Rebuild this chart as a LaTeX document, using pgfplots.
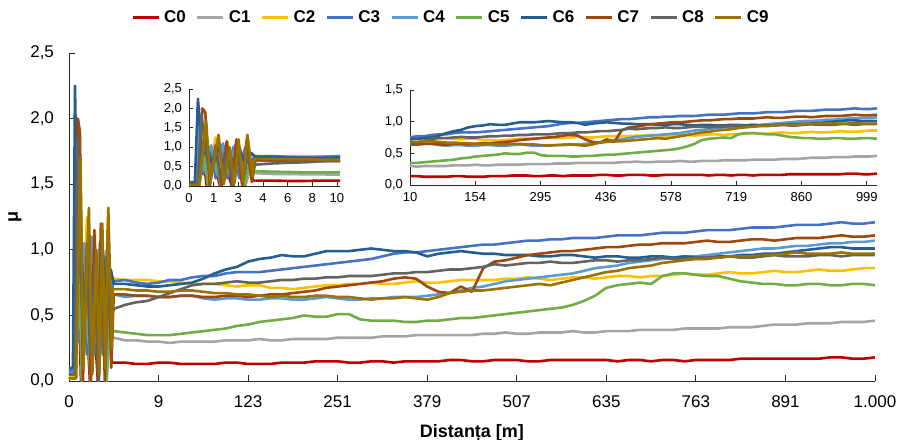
\documentclass[border=0pt]{standalone}
\usepackage{fontspec}
\setmainfont{Liberation Sans}
\usepackage{pgfplots}
\usepackage{pgfplotstable}
\pgfplotsset{compat=1.18}

\definecolor{c0}{HTML}{C00000}
\definecolor{c1}{HTML}{A5A5A5}
\definecolor{c2}{HTML}{FFC000}
\definecolor{c3}{HTML}{4472C4}
\definecolor{c4}{HTML}{5B9BD5}
\definecolor{c5}{HTML}{70AD47}
\definecolor{c6}{HTML}{255E91}
\definecolor{c7}{HTML}{9E480E}
\definecolor{c8}{HTML}{636363}
\definecolor{c9}{HTML}{997300}

% x is in tick-interval units: 1 unit = one label step of the main axis (0..9 m in the first one)
% first 4.5 m: oscillation, one x/y pair per series
\pgfplotstableread{
x0    y0   x1    y1   x2    y2   x3    y3   x4    y4   x5    y5   x6    y6   x7    y7   x8    y8   x9    y9
0     0.03 0     0.02 0     0.03 0     0.08 0     0.06 0     0.02 0     0.10 0     0.05 0     0.05 0     0.02
0.067 0.03 0.078 0.02 0.078 0.03 0.050 0.08 0.056 0.06 0.078 0.02 0.044 0.10 0.067 0.05 0.067 0.05 0.078 0.02
0.100 1.00 0.111 0.80 0.111 1.50 0.072 1.80 0.078 1.60 0.111 1.10 0.067 2.25 0.100 2.00 0.094 1.85 0.128 1.70
0.133 0.00 0.144 0.00 0.144 0.30 0.106 0.30 0.111 0.40 0.144 0.00 0.100 0.80 0.122 1.90 0.122 1.00 0.161 0.10
0.189 0.60 0.200 0.70 0.200 1.25 0.156 1.00 0.167 1.05 0.194 0.80 0.144 0.90 0.156 0.00 0.156 0.30 0.222 1.32
0.233 0.00 0.244 0.00 0.244 0.20 0.200 0.20 0.211 0.30 0.239 0.00 0.178 0.50 0.200 1.05 0.200 0.90 0.261 0.05
0.278 0.50 0.289 0.65 0.289 1.15 0.244 1.05 0.256 1.10 0.283 0.85 0.222 1.00 0.244 0.00 0.244 0.20 0.306 1.00
0.322 0.00 0.333 0.00 0.322 0.20 0.289 0.20 0.300 0.30 0.328 0.00 0.256 0.55 0.283 1.15 0.289 0.90 0.339 0.05
0.367 0.55 0.378 0.60 0.367 1.20 0.333 1.00 0.344 1.05 0.372 0.80 0.300 0.95 0.322 0.00 0.333 0.00 0.372 1.20
0.411 0.00 0.422 0.00 0.400 0.15 0.378 0.20 0.389 0.30 0.417 0.00 0.333 0.50 0.356 1.20 0.367 0.80 0.406 0.10
0.456 0.45 0.467 0.50 0.433 1.25 0.422 1.00 0.433 1.00 0.461 0.70 0.378 1.00 0.400 0.00 0.411 0.20 0.439 1.32
0.478 0.15 0.483 0.34 0.478 0.30 0.467 0.50 0.478 0.50 0.483 0.40 0.422 0.55 0.433 1.15 0.444 0.80 0.478 0.25
0.489 0.14 0.489 0.33 0.489 0.78 0.489 0.76 0.489 0.66 0.489 0.38 0.467 0.85 0.472 0.10 0.478 0.50 0.489 0.70
0.500 0.14 0.500 0.33 0.500 0.78 0.500 0.76 0.500 0.66 0.500 0.38 0.500 0.74 0.500 0.66 0.500 0.55 0.500 0.70
}\osc

% rest of the run, all series on one grid
\pgfplotstableread{
x     c0   c1   c2   c3   c4   c5   c6   c7   c8   c9
0.500 0.14 0.33 0.78 0.76 0.66 0.38 0.74 0.66 0.55 0.70
0.625 0.14 0.31 0.77 0.77 0.64 0.37 0.74 0.66 0.58 0.70
0.750 0.13 0.31 0.77 0.75 0.65 0.36 0.73 0.65 0.60 0.69
0.875 0.13 0.30 0.77 0.74 0.65 0.35 0.72 0.65 0.61 0.69
1.000 0.14 0.30 0.76 0.75 0.64 0.35 0.72 0.64 0.64 0.68
1.125 0.14 0.29 0.76 0.77 0.64 0.35 0.73 0.64 0.67 0.68
1.250 0.13 0.30 0.75 0.77 0.65 0.36 0.74 0.65 0.70 0.69
1.375 0.13 0.30 0.74 0.79 0.65 0.37 0.75 0.65 0.73 0.69
1.500 0.13 0.30 0.74 0.80 0.63 0.38 0.78 0.64 0.74 0.68
1.625 0.13 0.30 0.74 0.80 0.62 0.39 0.82 0.64 0.74 0.67
1.750 0.14 0.31 0.73 0.82 0.63 0.40 0.85 0.65 0.75 0.67
1.875 0.14 0.31 0.72 0.83 0.63 0.42 0.87 0.65 0.76 0.66
2.000 0.13 0.31 0.73 0.83 0.62 0.43 0.91 0.64 0.75 0.66
2.125 0.13 0.32 0.73 0.83 0.62 0.45 0.93 0.65 0.75 0.65
2.250 0.13 0.31 0.71 0.84 0.63 0.46 0.94 0.66 0.76 0.64
2.375 0.14 0.31 0.71 0.85 0.63 0.47 0.96 0.66 0.77 0.65
2.500 0.14 0.32 0.70 0.86 0.62 0.48 0.95 0.67 0.77 0.64
2.625 0.14 0.32 0.71 0.87 0.62 0.50 0.95 0.68 0.78 0.64
2.750 0.15 0.32 0.72 0.88 0.63 0.49 0.97 0.69 0.78 0.65
2.875 0.15 0.32 0.73 0.89 0.64 0.49 0.99 0.71 0.79 0.65
3.000 0.15 0.33 0.73 0.90 0.63 0.51 0.99 0.72 0.79 0.64
3.125 0.14 0.33 0.74 0.91 0.62 0.51 0.99 0.73 0.80 0.64
3.250 0.14 0.33 0.74 0.92 0.62 0.47 1.00 0.74 0.80 0.63
3.375 0.15 0.33 0.75 0.93 0.63 0.46 1.01 0.75 0.80 0.62
3.500 0.15 0.34 0.74 0.95 0.63 0.46 1.00 0.76 0.81 0.63
3.625 0.14 0.34 0.74 0.97 0.64 0.46 0.99 0.78 0.82 0.63
3.750 0.15 0.34 0.75 0.98 0.64 0.45 0.99 0.79 0.82 0.64
3.875 0.15 0.35 0.76 0.98 0.64 0.45 0.98 0.78 0.83 0.63
4.000 0.15 0.35 0.75 0.99 0.65 0.46 0.95 0.72 0.83 0.62
4.125 0.15 0.35 0.75 1.00 0.66 0.46 0.97 0.68 0.84 0.64
4.250 0.16 0.35 0.76 1.01 0.67 0.47 0.98 0.67 0.85 0.67
4.375 0.16 0.35 0.77 1.02 0.69 0.48 0.99 0.72 0.85 0.68
4.500 0.15 0.35 0.77 1.03 0.71 0.48 0.98 0.68 0.86 0.69
4.625 0.15 0.36 0.77 1.04 0.72 0.49 0.97 0.86 0.87 0.69
4.750 0.16 0.36 0.77 1.04 0.74 0.50 0.97 0.91 0.89 0.70
4.875 0.16 0.37 0.78 1.05 0.76 0.51 0.96 0.92 0.88 0.71
5.000 0.16 0.36 0.78 1.06 0.77 0.52 0.96 0.94 0.89 0.72
5.125 0.15 0.36 0.79 1.07 0.78 0.53 0.96 0.96 0.90 0.73
5.250 0.15 0.37 0.78 1.07 0.79 0.54 0.95 0.97 0.90 0.74
5.375 0.16 0.37 0.77 1.08 0.80 0.55 0.95 0.98 0.91 0.73
5.500 0.16 0.37 0.78 1.08 0.81 0.56 0.96 0.99 0.90 0.75
5.625 0.16 0.38 0.79 1.09 0.82 0.58 0.96 0.99 0.90 0.77
5.750 0.16 0.37 0.79 1.09 0.84 0.61 0.95 1.00 0.91 0.79
5.875 0.16 0.37 0.78 1.09 0.86 0.65 0.94 1.01 0.92 0.81
6.000 0.16 0.38 0.79 1.10 0.87 0.71 0.95 1.02 0.92 0.83
6.125 0.15 0.38 0.80 1.11 0.88 0.73 0.95 1.02 0.91 0.84
6.250 0.16 0.38 0.80 1.11 0.90 0.74 0.94 1.03 0.92 0.86
6.375 0.16 0.39 0.79 1.11 0.91 0.75 0.94 1.04 0.92 0.87
6.500 0.15 0.39 0.80 1.12 0.92 0.74 0.95 1.04 0.93 0.88
6.625 0.16 0.39 0.80 1.13 0.93 0.80 0.95 1.05 0.94 0.90
6.750 0.16 0.39 0.81 1.13 0.94 0.82 0.94 1.05 0.93 0.91
6.875 0.15 0.40 0.82 1.13 0.95 0.82 0.95 1.05 0.93 0.92
7.000 0.16 0.40 0.81 1.14 0.95 0.81 0.94 1.06 0.94 0.93
7.125 0.16 0.40 0.81 1.15 0.96 0.80 0.94 1.07 0.94 0.93
7.250 0.16 0.40 0.82 1.15 0.97 0.80 0.95 1.06 0.94 0.94
7.375 0.16 0.41 0.83 1.15 0.98 0.78 0.95 1.06 0.95 0.95
7.500 0.17 0.41 0.82 1.16 0.99 0.76 0.96 1.07 0.94 0.95
7.625 0.17 0.41 0.82 1.17 1.00 0.75 0.96 1.08 0.94 0.95
7.750 0.17 0.42 0.83 1.17 1.01 0.74 0.97 1.08 0.95 0.96
7.875 0.17 0.43 0.84 1.17 1.01 0.74 0.97 1.07 0.96 0.96
8.000 0.17 0.43 0.83 1.18 1.02 0.73 0.98 1.08 0.95 0.97
8.125 0.17 0.43 0.83 1.19 1.03 0.73 0.99 1.09 0.95 0.98
8.250 0.17 0.44 0.84 1.19 1.03 0.74 1.00 1.09 0.95 0.97
8.375 0.17 0.44 0.85 1.19 1.04 0.74 1.01 1.09 0.96 0.97
8.500 0.18 0.44 0.84 1.20 1.05 0.73 1.02 1.10 0.96 0.97
8.625 0.18 0.45 0.84 1.21 1.05 0.73 1.02 1.11 0.95 0.98
8.750 0.17 0.45 0.85 1.20 1.06 0.74 1.01 1.10 0.96 0.97
8.875 0.17 0.45 0.86 1.20 1.06 0.74 1.01 1.10 0.96 0.97
9.000 0.18 0.46 0.86 1.21 1.07 0.73 1.01 1.11 0.96 0.97
}\dist

\newcommand{\curve}[1]{%
  \addplot[c#1,forget plot] table[x=x#1,y=y#1]{\osc};
  \addplot[c#1] table[x=x,y=c#1]{\dist};
}
\newcommand{\allcurves}{%
  \curve{0}\curve{1}\curve{2}\curve{3}\curve{4}%
  \curve{5}\curve{6}\curve{7}\curve{8}\curve{9}%
}

\pgfplotsset{
  excel/.style={
    scale only axis, anchor=south west,
    axis lines*=left, axis line style={black!85},
    tick align=inside, major tick length=3pt,
    tick style={black!85, line width=0.4pt},
    every axis plot/.append style={line width=1.3pt, line join=round},
    /pgf/number format/fixed, /pgf/number format/fixed zerofill,
    /pgf/number format/precision=1, /pgf/number format/use comma,
    /pgf/number format/assume math mode=true,
  },
}

\begin{document}
\begin{tikzpicture}
\useasboundingbox (-34.5pt,-29pt) rectangle (415pt,190.5pt);

\begin{axis}[excel, at={(0,0)}, width=403pt, height=164pt,
  xmin=0, xmax=9, ymin=0, ymax=2.5,
  xtick={0,1,2,3,4,5,6,7,8,9},
  xticklabels={0,9,123,251,379,507,635,763,891,1.000},
  ytick={0,0.5,1,1.5,2,2.5},
  ticklabel style={font=\fontsize{8.5}{10}\selectfont},
  xticklabel style={yshift=-4pt},
  yticklabel style={xshift=-4pt},
  xlabel={Distanța [m]}, ylabel={μ},
  label style={font=\bfseries\fontsize{9}{11}\selectfont},
  xlabel style={at={(axis description cs:0.5,0)}, anchor=center, yshift=-26pt},
  ylabel style={at={(axis description cs:-0.067,0.5)}, anchor=center},
  legend columns=10,
  legend style={draw=none, fill=none, at={(0.475,1.107)}, anchor=center,
    font=\bfseries\fontsize{8.5}{10}\selectfont,
    /tikz/every even column/.append style={column sep=3pt}},
  legend image code/.code={\draw[#1, line width=1.5pt] (0pt,0pt) -- (13pt,0pt);},
  legend entries={C0,C1,C2,C3,C4,C5,C6,C7,C8,C9},
]
\allcurves
\end{axis}

\begin{axis}[excel, at={(60pt,97.5pt)}, width=75.5pt, height=48.5pt,
  xmin=0, xmax=1.134, ymin=0, ymax=2.5,
  xtick={0,0.1852,0.3704,0.5556,0.7407,0.9259,1.1111},
  xticklabels={0,1,3,4,6,8,10},
  ytick={0,0.5,1,1.5,2,2.5}, major tick length=2pt,
  ticklabel style={font=\fontsize{6.5}{7.5}\selectfont},
]
\allcurves
\end{axis}

\begin{axis}[excel, at={(170.5pt,98pt)}, width=233.5pt, height=47.5pt,
  xmin=1, xmax=9, ymin=0, ymax=1.5,
  xtick={1,2.118,3.236,4.354,5.472,6.59,7.708,8.826},
  xticklabels={10,154,295,436,578,719,860,999},
  ytick={0,0.5,1,1.5}, major tick length=2pt,
  ticklabel style={font=\fontsize{6.5}{7.5}\selectfont},
]
\allcurves
\end{axis}
\end{tikzpicture}
\end{document}
